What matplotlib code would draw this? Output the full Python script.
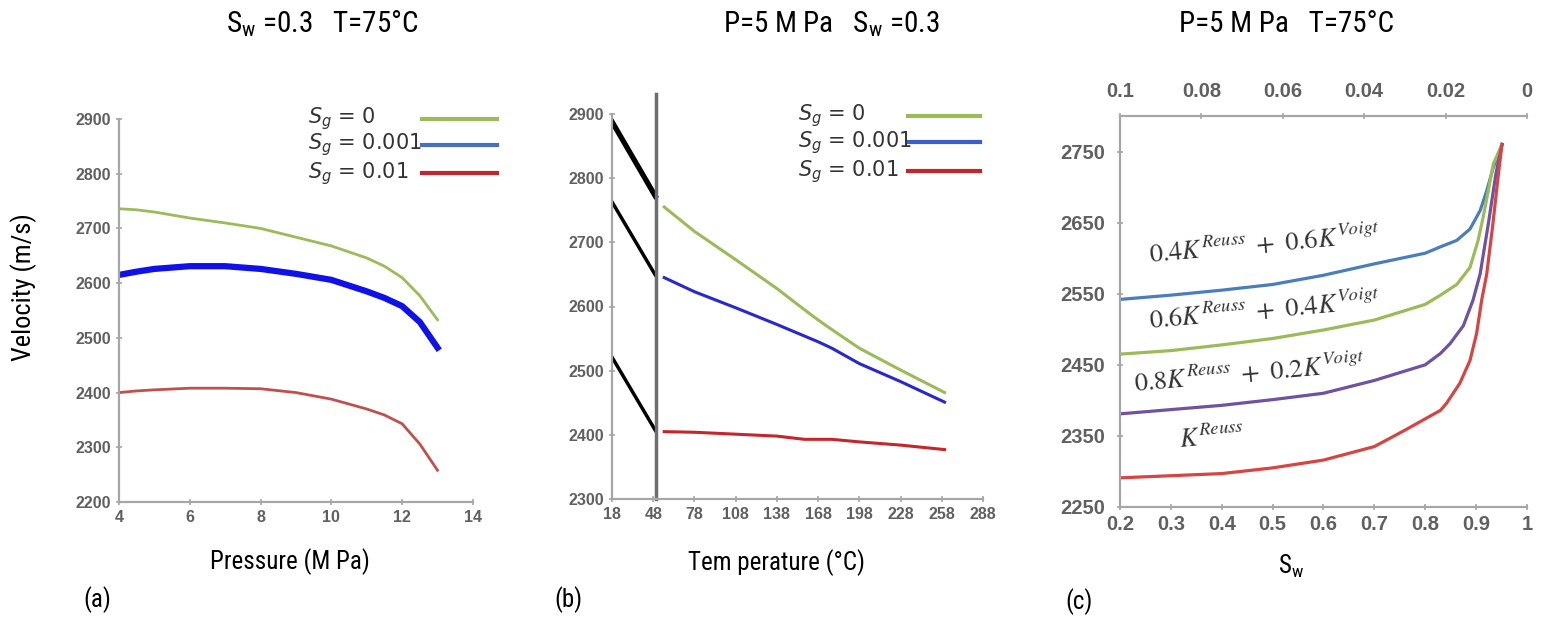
import matplotlib
matplotlib.use("Agg")
import matplotlib.pyplot as plt
from matplotlib import font_manager

# ---- (a) velocity vs pressure, Sw = 0.3, T = 75 C ----
pressure = [4, 4.5, 5, 6, 7, 8, 9, 10, 11, 11.5, 12, 12.5, 13]
vel_p_sg0 = [2736, 2734, 2730, 2719, 2710, 2700, 2684, 2668, 2646, 2631, 2610, 2577, 2533]
vel_p_sg001 = [2615, 2621, 2626, 2631, 2631, 2626, 2617, 2606, 2585, 2573, 2558, 2529, 2482]
vel_p_sg01 = [2400, 2403, 2405, 2408, 2408, 2407, 2400, 2388, 2370, 2359, 2343, 2306, 2258]

# ---- (b) velocity vs temperature, P = 5 MPa, Sw = 0.3 ----
temperature = [56, 78, 108, 138, 158, 168, 178, 198, 228, 260]
vel_t_sg0 = [2755, 2717, 2673, 2628, 2595, 2579, 2564, 2535, 2501, 2466]
vel_t_sg001 = [2645, 2623, 2598, 2572, 2554, 2545, 2535, 2511, 2483, 2451]
vel_t_sg01 = [2405, 2404, 2401, 2398, 2393, 2393, 2393, 2389, 2384, 2377]
# short black segments left of the axis break
seg_temp = [18, 49.5]
seg_top = [2888, 2772]
seg_mid = [2763, 2649]
seg_low = [2521, 2407]
break_temp = 50

# ---- (c) velocity vs water saturation, P = 5 MPa, T = 75 C ----
sw_46 = [0.2, 0.3, 0.4, 0.5, 0.6, 0.7, 0.8, 0.83, 0.862, 0.888, 0.908, 0.921, 0.934, 0.951]
vel_46 = [2542, 2548, 2555, 2563, 2576, 2592, 2607, 2616, 2625, 2641, 2667, 2695, 2728, 2760]
sw_64 = [0.2, 0.3, 0.4, 0.5, 0.6, 0.7, 0.8, 0.83, 0.862, 0.888, 0.904, 0.914, 0.924, 0.934, 0.951]
vel_64 = [2465, 2470, 2478, 2487, 2499, 2513, 2535, 2548, 2563, 2587, 2625, 2658, 2695, 2733, 2760]
sw_82 = [0.2, 0.3, 0.4, 0.5, 0.6, 0.7, 0.8, 0.83, 0.849, 0.875, 0.894, 0.908, 0.924, 0.939, 0.951]
vel_82 = [2381, 2387, 2393, 2401, 2410, 2428, 2450, 2466, 2480, 2505, 2541, 2578, 2648, 2719, 2760]
sw_reuss = [0.2, 0.3, 0.4, 0.5, 0.6, 0.7, 0.76, 0.83, 0.842, 0.868, 0.888, 0.901, 0.911,
            0.921, 0.933, 0.944, 0.951]
vel_reuss = [2291, 2294, 2297, 2305, 2316, 2335, 2358, 2386, 2396, 2424, 2456, 2494, 2541,
             2578, 2648, 2719, 2760]

sw_ticks = [0.2, 0.3, 0.4, 0.5, 0.6, 0.7, 0.8, 0.9, 1.0]
sw_tick_labels = ["0.2", "0.3", "0.4", "0.5", "0.6", "0.7", "0.8", "0.9", "1"]
sg_ticks = [0.1, 0.08, 0.06, 0.04, 0.02, 0]
sg_tick_labels = ["0.1", "0.08", "0.06", "0.04", "0.02", "0"]

legend_labels = ["$S_g$ = 0", "$S_g$ = 0.001", "$S_g$ = 0.01"]

GREEN = "#9bbb59"
SPINE = "#a6a6a6"
TICK = "#606060"

# pick a narrow sans for the captions, whichever is installed
installed = {f.name for f in font_manager.fontManager.ttflist}
narrow_pref = ["Liberation Sans Narrow", "Roboto Condensed", "Archivo Narrow", "PT Sans Narrow",
               "Fira Sans Condensed", "Open Sans Condensed", "Barlow Condensed", "DejaVu Sans"]
NARROW = next(n for n in narrow_pref if n in installed)
TICKFONT = "Liberation Sans" if "Liberation Sans" in installed else "DejaVu Sans"

plt.rcParams["mathtext.fontset"] = "custom"
plt.rcParams["mathtext.rm"] = NARROW
plt.rcParams["mathtext.it"] = NARROW + ":italic"

fig = plt.figure(figsize=(15.51, 6.25), dpi=100)


def style_axes(ax, fs=11.5):
    for side in ["top", "right"]:
        ax.spines[side].set_visible(False)
    for side in ["left", "bottom"]:
        ax.spines[side].set_color(SPINE)
        ax.spines[side].set_linewidth(1.6)
    ax.tick_params(colors=SPINE, labelcolor=TICK, labelsize=fs, direction="inout",
                   length=5, width=1.2)
    for lab in ax.get_xticklabels() + ax.get_yticklabels():
        lab.set_fontweight("bold")
        lab.set_family(TICKFONT)


def add_legend(ax, colors, text_x, line_x, rows):
    # text column left aligned, line samples in a column to the right (as in the original)
    for lab, c, y in zip(legend_labels, colors, rows):
        ax.text(text_x, y, lab, transform=ax.transAxes, fontsize=15, color="#333333",
                ha="left", va="center", math_fontfamily="dejavusans")
        ax.plot(line_x, [y, y], transform=ax.transAxes, color=c, lw=3, clip_on=False)


# ---------------- panel (a) ----------------
ax1 = fig.add_axes([0.0767, 0.1968, 0.2282, 0.6128])
ax1.plot(pressure, vel_p_sg0, color=GREEN, lw=2)
ax1.plot(pressure, vel_p_sg001, color="#1010e8", lw=4.5)
ax1.plot(pressure, vel_p_sg01, color="#c0504d", lw=2)
ax1.set_xlim(4, 14)
ax1.set_ylim(2200, 2900)
ax1.set_xticks([4, 6, 8, 10, 12, 14])
ax1.set_yticks(range(2200, 2901, 100))
style_axes(ax1)
add_legend(ax1, [GREEN, "#4a6fc0", "#c0272d"], 0.534, [0.856, 1.068], [1.0, 0.933, 0.858])

# ---------------- panel (b) ----------------
ax2 = fig.add_axes([0.3946, 0.2016, 0.2392, 0.616])
ax2.plot(seg_temp, seg_top, color="black", lw=3.8)
ax2.plot(seg_temp, seg_mid, color="black", lw=2.5)
ax2.plot(seg_temp, seg_low, color="black", lw=2.5)
ax2.axvline(break_temp, ymin=0, ymax=1.052, color="#6e6e6e", lw=2.5, clip_on=False)
ax2.plot(temperature, vel_t_sg0, color=GREEN, lw=2.2)
ax2.plot(temperature, vel_t_sg001, color="#2828cc", lw=2.2)
ax2.plot(temperature, vel_t_sg01, color="#c4262c", lw=2.2)
ax2.set_xlim(18, 288)
ax2.set_ylim(2300, 2900)
ax2.set_xticks(range(18, 289, 30))
ax2.set_yticks(range(2300, 2901, 100))
style_axes(ax2)
add_legend(ax2, [GREEN, "#3a5fc8", "#c0272d"], 0.501, [0.798, 0.992], [0.995, 0.927, 0.851])

# ---------------- panel (c) ----------------
ax3 = fig.add_axes([0.7221, 0.1888, 0.2624, 0.6256])
ax3.plot(sw_46, vel_46, color="#4a7ebb", lw=2.3)
ax3.plot(sw_64, vel_64, color=GREEN, lw=2.3)
ax3.plot(sw_82, vel_82, color="#6f52a0", lw=2.3)
ax3.plot(sw_reuss, vel_reuss, color="#d64541", lw=2.3)
ax3.set_xlim(0.2, 1.0)
ax3.set_ylim(2250, 2800)
ax3.set_xticks(sw_ticks)
ax3.set_xticklabels(sw_tick_labels)
ax3.set_yticks(range(2250, 2751, 100))
style_axes(ax3, fs=14.5)
ax3.tick_params(axis="y", pad=8)

top = ax3.twiny()
top.set_xlim(0.1, 0)
top.set_xticks(sg_ticks)
top.set_xticklabels(sg_tick_labels)
for side in ["left", "right", "bottom"]:
    top.spines[side].set_visible(False)
top.spines["top"].set_color(SPINE)
top.spines["top"].set_linewidth(1.6)
top.tick_params(colors=SPINE, labelcolor=TICK, labelsize=14.5, direction="inout",
                length=5, width=1.2, pad=8)
for lab in top.get_xticklabels():
    lab.set_fontweight("bold")
    lab.set_family(TICKFONT)

ann = dict(math_fontfamily="stix", fontsize=19, color="#333333", ha="left",
           va="baseline", rotation=5, rotation_mode="anchor")
ax3.text(0.259, 2593, r"$0.4K^{Reuss}\ +\ 0.6K^{Voigt}$", **ann)
ax3.text(0.259, 2501, r"$0.6K^{Reuss}\ +\ 0.4K^{Voigt}$", **ann)
ax3.text(0.229, 2412, r"$0.8K^{Reuss}\ +\ 0.2K^{Voigt}$", **ann)
ax3.text(0.318, 2333, r"$K^{Reuss}$", **ann)

# ---------------- figure texts ----------------
txt = dict(family=[NARROW, "DejaVu Sans"], fontsize=18, color="black",
           math_fontfamily="custom", ha="center", va="center")
W, H = 1551, 625
fig.text(322 / W, 1 - 24 / H, "S$_\\mathrm{w}$ =0.3   T=75°C", **dict(txt, fontsize=21))
fig.text(831 / W, 1 - 24 / H, "P=5 M Pa   S$_\\mathrm{w}$ =0.3", **dict(txt, fontsize=21))
fig.text(1287 / W, 1 - 24 / H, "P=5 M Pa   T=75°C", **dict(txt, fontsize=21))

fig.text(24 / W, 1 - 287 / H, "Velocity (m/s)", rotation=90, **dict(txt, fontsize=19))
fig.text(290 / W, 1 - 562 / H, "Pressure (M Pa)", **txt)
fig.text(777 / W, 1 - 563 / H, "Tem perature (°C)", **txt)
fig.text(1291 / W, 1 - 566 / H, "S$_\\mathrm{w}$", **txt)

fig.text(97 / W, 1 - 600 / H, "(a)", **txt)
fig.text(568 / W, 1 - 600 / H, "(b)", **txt)
fig.text(1079 / W, 1 - 602 / H, "(c)", **txt)

fig.savefig("out.png", dpi=100)
